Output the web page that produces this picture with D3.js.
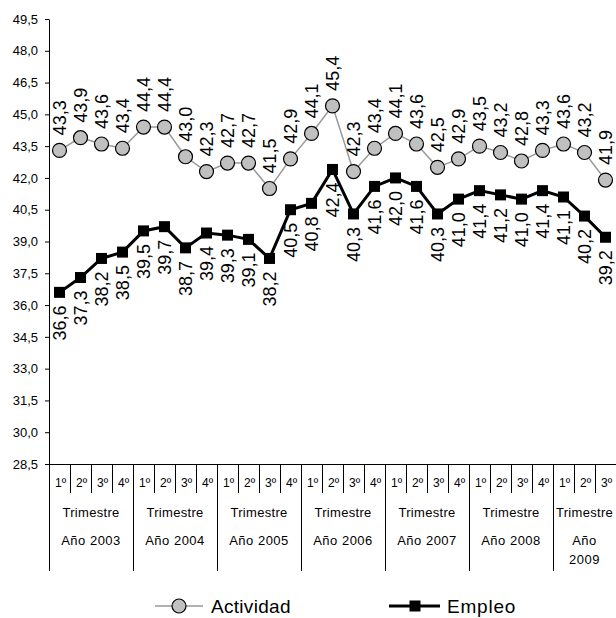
<!DOCTYPE html>
<html><head><meta charset="utf-8">
<script src="https://cdn.jsdelivr.net/npm/d3@7"></script>
<style>body{margin:0;background:#fff} text{font-family:"Liberation Sans",Arial,sans-serif;fill:#000}</style>
</head><body><svg id="c" width="616" height="618"></svg>
<script>
const years = ["2003","2004","2005","2006","2007","2008","2009"];
const quartersPerYear = [4,4,4,4,4,4,3];
const quarterLabels = ["1º","2º","3º","4º"];
const actividad = [43.3,43.9,43.6,43.4, 44.4,44.4,43.0,42.3, 42.7,42.7,41.5,42.9, 44.1,45.4,42.3,43.4, 44.1,43.6,42.5,42.9, 43.5,43.2,42.8,43.3, 43.6,43.2,41.9];
const empleo = [36.6,37.3,38.2,38.5, 39.5,39.7,38.7,39.4, 39.3,39.1,38.2,40.5, 40.8,42.4,40.3,41.6, 42.0,41.6,40.3,41.0, 41.4,41.2,41.0,41.4, 41.1,40.2,39.2];
const yTicks = [28.5,30.0,31.5,33.0,34.5,36.0,37.5,39.0,40.5,42.0,43.5,45.0,46.5,48.0,49.5];
const seriesNames = ["Actividad","Empleo"];

const categories = [];
years.forEach((yr,i)=>{ for(let q=0;q<quartersPerYear[i];q++) categories.push(yr+"-"+(q+1)); });

const svg = d3.select("#c");
const L=49, R=616, T=19, B=464;
const x = d3.scaleBand().domain(categories).range([L,R]);
const y = d3.scaleLinear().domain([28.5,49.5]).range([B,T]);
const bw = x.bandwidth();
const cx = c => x(c)+bw/2;
const fmt = v => d3.format(".1f")(v).replace(".",",");

// y axis
const ax = svg.append("g").attr("transform",`translate(${L},0)`)
  .call(d3.axisLeft(y).tickValues(yTicks).tickSize(4).tickSizeOuter(0).tickPadding(7).tickFormat(fmt));
ax.selectAll("text").style("font-size","13px").style("font-family","'Liberation Sans',Arial,sans-serif");
ax.select(".domain").attr("stroke","#000");
ax.selectAll(".tick line").attr("stroke","#000");
svg.append("line").attr("x1",L+0.5).attr("x2",L+0.5).attr("y1",B).attr("y2",571).attr("stroke","#000");

// x axis line
svg.append("line").attr("x1",L).attr("x2",R).attr("y1",B+0.5).attr("y2",B+0.5).attr("stroke","#000");

// quarter separators & labels
categories.forEach((c,i)=>{
  const q = +c.split("-")[1];
  if(q>1){
    svg.append("line").attr("x1",Math.round(x(c))+0.5).attr("x2",Math.round(x(c))+0.5)
      .attr("y1",B).attr("y2",493).attr("stroke","#000");
  }
  svg.append("text").attr("x",cx(c)+1).attr("y",487).attr("text-anchor","middle")
    .style("font-size","12px").text(quarterLabels[q-1]);
});

// year separators & labels
years.forEach((yr,i)=>{
  const first = yr+"-1", last = yr+"-"+quartersPerYear[i];
  const x0 = x(first), x1 = x(last)+bw;
  if(i>0) svg.append("line").attr("x1",Math.round(x0)+0.5).attr("x2",Math.round(x0)+0.5)
      .attr("y1",B).attr("y2",571).attr("stroke","#000");
  const mid=(x0+x1)/2;
  svg.append("text").attr("x",mid).attr("y",517).attr("text-anchor","middle")
    .style("font-size","13px").style("letter-spacing","0.3px").text("Trimestre");
  if(quartersPerYear[i]===4){
    svg.append("text").attr("x",mid).attr("y",545).attr("text-anchor","middle")
      .style("font-size","13px").style("letter-spacing","0.5px").text("Año "+yr);
  } else {
    svg.append("text").attr("x",mid).attr("y",545).attr("text-anchor","middle")
      .style("font-size","13px").style("letter-spacing","0.5px").text("Año");
    svg.append("text").attr("x",mid).attr("y",564).attr("text-anchor","middle")
      .style("font-size","13px").style("letter-spacing","0.5px").text(yr);
  }
});

// Actividad
const lineA = d3.line().x((d,i)=>cx(categories[i])).y(d=>y(d));
svg.append("path").datum(actividad).attr("d",lineA).attr("fill","none").attr("stroke","#999").attr("stroke-width",1.5);
svg.selectAll(".ca").data(actividad).enter().append("circle")
  .attr("cx",(d,i)=>cx(categories[i])).attr("cy",d=>y(d)).attr("r",7)
  .attr("fill","#c0c0c0").attr("stroke","#000").attr("stroke-width",1.2);
svg.selectAll(".la").data(actividad).enter().append("text")
  .attr("transform",(d,i)=>`translate(${cx(categories[i])+6.5},${y(d)-15}) rotate(-90)`)
  .style("font-size","18px").text(d=>fmt(d));

// Empleo
svg.append("path").datum(empleo).attr("d",lineA).attr("fill","none").attr("stroke","#000").attr("stroke-width",3);
svg.selectAll(".se").data(empleo).enter().append("rect")
  .attr("x",(d,i)=>cx(categories[i])-5.5).attr("y",d=>y(d)-5.5).attr("width",11).attr("height",11).attr("fill","#000");
svg.selectAll(".le").data(empleo).enter().append("text")
  .attr("transform",(d,i)=>`translate(${cx(categories[i])+6.5},${y(d)+13}) rotate(-90)`)
  .attr("text-anchor","end").style("font-size","18px").text(d=>fmt(d));

// legend
const ly=606;
svg.append("line").attr("x1",155).attr("x2",203).attr("y1",ly).attr("y2",ly).attr("stroke","#999").attr("stroke-width",1.5);
svg.append("circle").attr("cx",179).attr("cy",ly).attr("r",7).attr("fill","#c0c0c0").attr("stroke","#000").attr("stroke-width",1.2);
svg.append("text").attr("x",211).attr("y",ly+7).style("font-size","19px").style("letter-spacing","0.3px").text(seriesNames[0]);
svg.append("line").attr("x1",389).attr("x2",440).attr("y1",ly).attr("y2",ly).attr("stroke","#000").attr("stroke-width",3);
svg.append("rect").attr("x",409.5).attr("y",ly-5.5).attr("width",11).attr("height",11).attr("fill","#000");
svg.append("text").attr("x",447).attr("y",ly+7).style("font-size","19px").style("letter-spacing","0.8px").text(seriesNames[1]);
</script></body></html>
